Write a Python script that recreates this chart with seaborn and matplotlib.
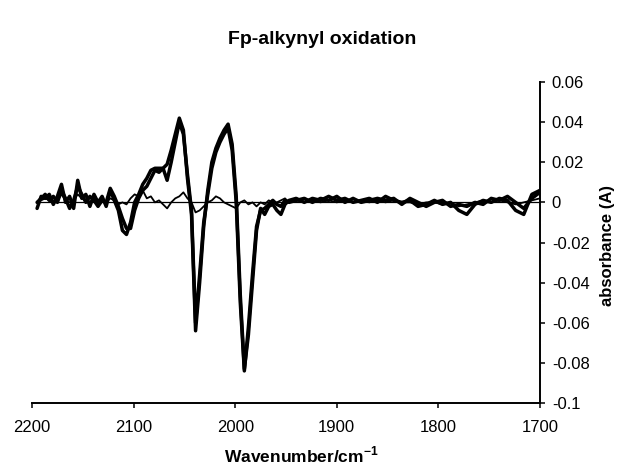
import numpy as np
import pandas as pd
import matplotlib
matplotlib.use("Agg")
import matplotlib.pyplot as plt
import seaborn as sns

# wavenumber grid (cm-1), fine through the bands, coarser in the flat part
wavenumber = [2195, 2191, 2187, 2183, 2179, 2175, 2171, 2167, 2163, 2159,
              2155, 2151, 2147, 2143, 2139, 2135, 2131, 2127, 2123, 2119,
              2115, 2111, 2107, 2103, 2099, 2095, 2091, 2087, 2083, 2079,
              2075, 2071, 2067, 2063, 2059, 2055, 2051, 2047, 2043, 2039,
              2035, 2031, 2027, 2023, 2019, 2015, 2011, 2007, 2003, 1999,
              1995, 1991, 1987, 1983, 1979, 1975, 1971, 1967, 1963, 1959,
              1955, 1951, 1947, 1940, 1932, 1924, 1916, 1908, 1900, 1892,
              1884, 1876, 1868, 1860, 1852, 1844, 1836, 1828, 1820, 1812,
              1804, 1796, 1788, 1780, 1772, 1764, 1756, 1748, 1740, 1732,
              1724, 1716, 1708, 1700]

# late spectrum 1
trace_a = [-0.003, 0.003, 0.002, 0.004, -0.001, 0.003, 0.009, 0.000, 0.003, -0.003,
           0.011, 0.002, 0.004, -0.002, 0.004, 0.000, 0.003, -0.002, 0.006, 0.001,
           -0.004, -0.014, -0.016, -0.010, 0.000, 0.004, 0.009, 0.012, 0.016, 0.017,
           0.017, 0.017, 0.019, 0.026, 0.034, 0.042, 0.036, 0.012, -0.006, -0.064,
           -0.040, -0.012, 0.006, 0.020, 0.027, 0.032, 0.036, 0.039, 0.029, 0.003,
           -0.046, -0.083, -0.066, -0.040, -0.014, -0.003, -0.006, -0.002, -0.001, -0.004,
           -0.006, -0.001, 0.001, 0.002, 0.000, 0.002, 0.001, 0.003, 0.001, 0.002,
           0.000, 0.001, 0.002, 0.000, 0.003, 0.001, 0.000, 0.001, -0.002, -0.001,
           0.001, -0.001, 0.000, -0.004, -0.006, -0.001, 0.001, 0.000, 0.002, 0.001,
           -0.004, -0.006, 0.004, 0.006]

# late spectrum 2
trace_b = [0.000, 0.002, 0.004, 0.001, 0.003, 0.000, 0.006, 0.002, -0.003, 0.001,
           0.008, 0.004, 0.000, 0.003, 0.001, -0.002, 0.001, 0.000, 0.007, 0.003,
           -0.002, -0.008, -0.013, -0.013, -0.004, 0.002, 0.006, 0.008, 0.012, 0.016,
           0.015, 0.017, 0.011, 0.020, 0.030, 0.040, 0.034, 0.014, -0.004, -0.060,
           -0.036, -0.010, 0.004, 0.017, 0.025, 0.030, 0.034, 0.037, 0.026, 0.000,
           -0.050, -0.084, -0.062, -0.036, -0.012, -0.004, -0.003, -0.001, 0.001, -0.001,
           -0.002, 0.001, 0.000, 0.001, 0.002, 0.000, 0.002, 0.001, 0.003, 0.000,
           0.002, 0.000, 0.001, 0.002, 0.001, 0.002, -0.001, 0.002, 0.000, -0.002,
           0.000, 0.001, -0.002, -0.001, -0.002, 0.000, -0.001, 0.002, 0.001, 0.003,
           0.000, -0.003, 0.002, 0.005]

# early spectrum (thin)
trace_early = [0.000, 0.001, 0.002, 0.001, 0.000, 0.001, 0.004, 0.001, 0.000, 0.001,
               0.004, 0.002, 0.001, 0.000, 0.002, 0.000, 0.001, 0.000, 0.002, 0.001,
               -0.001, 0.000, -0.001, 0.002, 0.004, 0.003, 0.006, 0.002, 0.003, 0.000,
               0.001, -0.001, -0.003, 0.000, 0.002, 0.003, 0.005, 0.002, 0.000, -0.005,
               -0.004, -0.002, 0.000, 0.001, 0.003, 0.002, 0.000, -0.001, -0.002, -0.003,
               0.000, 0.001, -0.001, 0.000, -0.002, 0.000, -0.001, 0.001, 0.000, 0.000,
               0.001, 0.002, 0.000, 0.001, 0.000, 0.001, 0.000, 0.001, 0.000, 0.001,
               0.000, 0.001, 0.000, 0.001, 0.000, 0.001, 0.000, 0.000, -0.001, 0.000,
               0.000, -0.001, 0.000, -0.002, -0.001, 0.000, 0.001, 0.000, 0.001, 0.000,
               -0.001, 0.000, 0.001, 0.002]

zero_wn = [2195, 1700]
zero_line = [0, 0]

yticks = [-0.1, -0.08, -0.06, -0.04, -0.02, 0, 0.02, 0.04, 0.06]
ytick_labels = ["-0.1", "-0.08", "-0.06", "-0.04", "-0.02", "0", "0.02", "0.04", "0.06"]
xticks = [2200, 2100, 2000, 1900, 1800, 1700]

sns.set_style("white")
plt.rcParams['font.family'] = ['Liberation Sans', 'DejaVu Sans']
plt.rcParams['mathtext.fontset'] = 'custom'
plt.rcParams['mathtext.rm'] = 'Liberation Sans'
plt.rcParams['mathtext.bf'] = 'Liberation Sans:bold'
plt.rcParams['axes.unicode_minus'] = False
for key in ['text.color', 'axes.labelcolor', 'xtick.color', 'ytick.color', 'axes.edgecolor']:
    plt.rcParams[key] = 'black'

fig = plt.figure(figsize=(6.19, 4.65), dpi=100)
ax = fig.add_axes([32 / 619, 1 - 403 / 465, 508 / 619, 321 / 465])

sns.lineplot(x=zero_wn, y=zero_line, ax=ax, color='black', lw=0.9)
sns.lineplot(x=wavenumber, y=trace_early, ax=ax, color='black', lw=1.3)
sns.lineplot(x=wavenumber, y=trace_a, ax=ax, color='black', lw=2.5)
sns.lineplot(x=wavenumber, y=trace_b, ax=ax, color='black', lw=2.5)

ax.set_xlim(2200, 1700)
ax.set_ylim(-0.1, 0.06)
ax.set_xticks(xticks)
ax.set_xticklabels([str(t) for t in xticks], fontsize=12)
ax.set_yticks(yticks)
ax.set_yticklabels(ytick_labels, fontsize=12)

ax.spines['left'].set_visible(False)
ax.spines['top'].set_visible(False)
ax.spines['right'].set_linewidth(1.4)
ax.spines['bottom'].set_linewidth(1.4)
ax.yaxis.tick_right()
ax.tick_params(axis='y', direction='out', length=3.5, width=1.1, pad=5, right=True, left=False)
ax.tick_params(axis='x', direction='out', length=3.5, width=1.1, pad=9, bottom=True)

ax.set_xlabel(r"Wavenumber/cm$^{\mathbf{-1}}$", fontsize=12.5, fontweight='bold')
ax.xaxis.set_label_coords(0.531, -0.13)
ax.yaxis.set_label_position('right')
ax.set_ylabel("absorbance (A)", fontsize=12, fontweight='bold')
ax.yaxis.label.set_va('center')
ax.yaxis.set_label_coords(1.132, 0.49)

fig.text(0.52, 1 - 40 / 465, "Fp-alkynyl oxidation", fontsize=14,
         fontweight='bold', ha='center', va='center')

fig.savefig("out.png", dpi=100)
